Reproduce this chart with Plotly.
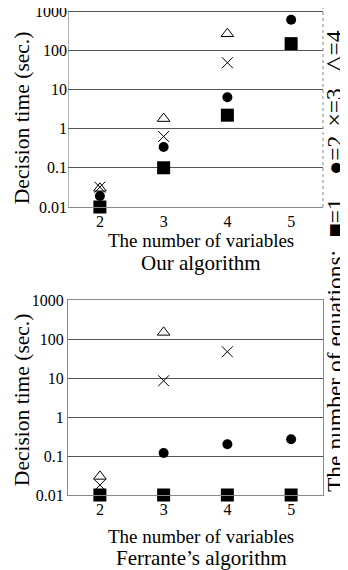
import plotly.graph_objects as go

variables = [2, 3, 4, 5]
x_tick_labels = ["2", "3", "4", "5"]
y_tick_vals = [0.01, 0.1, 1, 10, 100, 1000]
y_tick_labels = ["0.01", "0.1", "1", "10", "100", "1000"]

# Our algorithm (decision time in sec.), by number of equations
our_eq1 = [0.01, 0.1, 2.2, 147]
our_eq2 = [0.019, 0.34, 6.3, 600]
our_eq3 = [0.032, 0.63, 48, 1550]
our_eq4 = [0.03, 1.8, 263, None]

# Ferrante's algorithm
fer_eq1 = [0.01, 0.01, 0.01, 0.01]
fer_eq2 = [0.01, 0.12, 0.2, 0.27]
fer_eq3 = [0.018, 8.5, 47, None]
fer_eq4 = [0.03, 148, None, None]

legend_title = "The number of equations:"
legend_items = ["■=1", "●=2", "×=3", "△=4"]

FONT = "Liberation Serif, Times New Roman, serif"
styles = {
    1: dict(symbol="square", size=13, color="black", line=dict(width=0)),
    2: dict(symbol="circle", size=10, color="black", line=dict(width=0)),
    3: dict(symbol="x-thin-open", size=11, color="black", line=dict(width=1, color="black")),
    4: dict(symbol="triangle-up-open", size=11, color="black", line=dict(width=1, color="black")),
}

fig = go.Figure()
for xa, ya, series in [("x", "y", [our_eq4, our_eq3, our_eq2, our_eq1]),
                       ("x2", "y2", [fer_eq4, fer_eq3, fer_eq2, fer_eq1])]:
    for k, vals in zip([4, 3, 2, 1], series):
        fig.add_trace(go.Scatter(x=variables, y=vals, mode="markers", xaxis=xa, yaxis=ya,
                                 marker=styles[k], cliponaxis=False, showlegend=False))

axis_x = dict(range=[1.5, 5.5], tickvals=variables, ticktext=x_tick_labels, showgrid=False,
              zeroline=False, showline=True, linecolor="#888", linewidth=1, ticks="",
              automargin=False, ticklabeloverflow="allow",
              tickfont=dict(family=FONT, size=16, color="black"))
axis_y = dict(type="log", tickvals=y_tick_vals, ticktext=y_tick_labels,
              showgrid=True, gridcolor="#555", gridwidth=1, zeroline=False, showline=False,
              ticks="", automargin=False, ticklabeloverflow="allow",
              tickfont=dict(family=FONT, size=16, color="black"))

# page body has an 8px margin; figure is sized so the content lines up with the viewport
fig.update_layout(
    template="none",
    width=340, height=562,
    margin=dict(l=60, r=25, t=0, b=75, pad=0),
    paper_bgcolor="white", plot_bgcolor="white",
    xaxis=dict(axis_x, domain=[0, 1], anchor="y"),
    yaxis=dict(axis_y, range=[-2, 3.077], domain=[0.5914, 1], anchor="x"),
    xaxis2=dict(axis_x, domain=[0, 1], anchor="y2", mirror=True),
    yaxis2=dict(axis_y, range=[-2, 3], domain=[0, 0.4004], anchor="x2",
                showline=True, mirror=True, linecolor="#888", linewidth=1),
    font=dict(family=FONT, color="black"),
)

# top panel: left axis line (to 1000) and dotted right border
fig.add_shape(type="line", xref="x", yref="y", x0=1.5, x1=1.5, y0=0.01, y1=1000,
              line=dict(color="#666", width=1))
fig.add_shape(type="line", xref="paper", yref="paper", x0=1, x1=1, y0=0.5914, y1=1,
              line=dict(color="#888", width=1, dash="dot"))

ann = [
    ("The number of variables", 0.5216, 0.5216, 0, 19),
    ("Our algorithm", 0.5216, 0.4764, 0, 21),
    ("The number of variables", 0.5216, -0.0862, 0, 19),
    ("Ferrante’s algorithm", 0.5216, -0.1294, 0, 21),
    ("Decision time (sec.)", -0.180, 0.774, -90, 21.5),
    ("Decision time (sec.)", -0.180, 0.195, -90, 21.5),
]
legend_y = [0.2546, 0.5698, 0.6982, 0.7957, 0.9107]
for text, y in zip([legend_title] + legend_items, legend_y):
    ann.append((text, 1.047, y, -90, 23.5))

for text, x, y, ang, size in ann:
    fig.add_annotation(text=text, xref="paper", yref="paper", x=x, y=y, xanchor="center",
                       yanchor="middle", showarrow=False, textangle=ang,
                       font=dict(family=FONT, size=size, color="black"))

fig.write_html("out.html")
